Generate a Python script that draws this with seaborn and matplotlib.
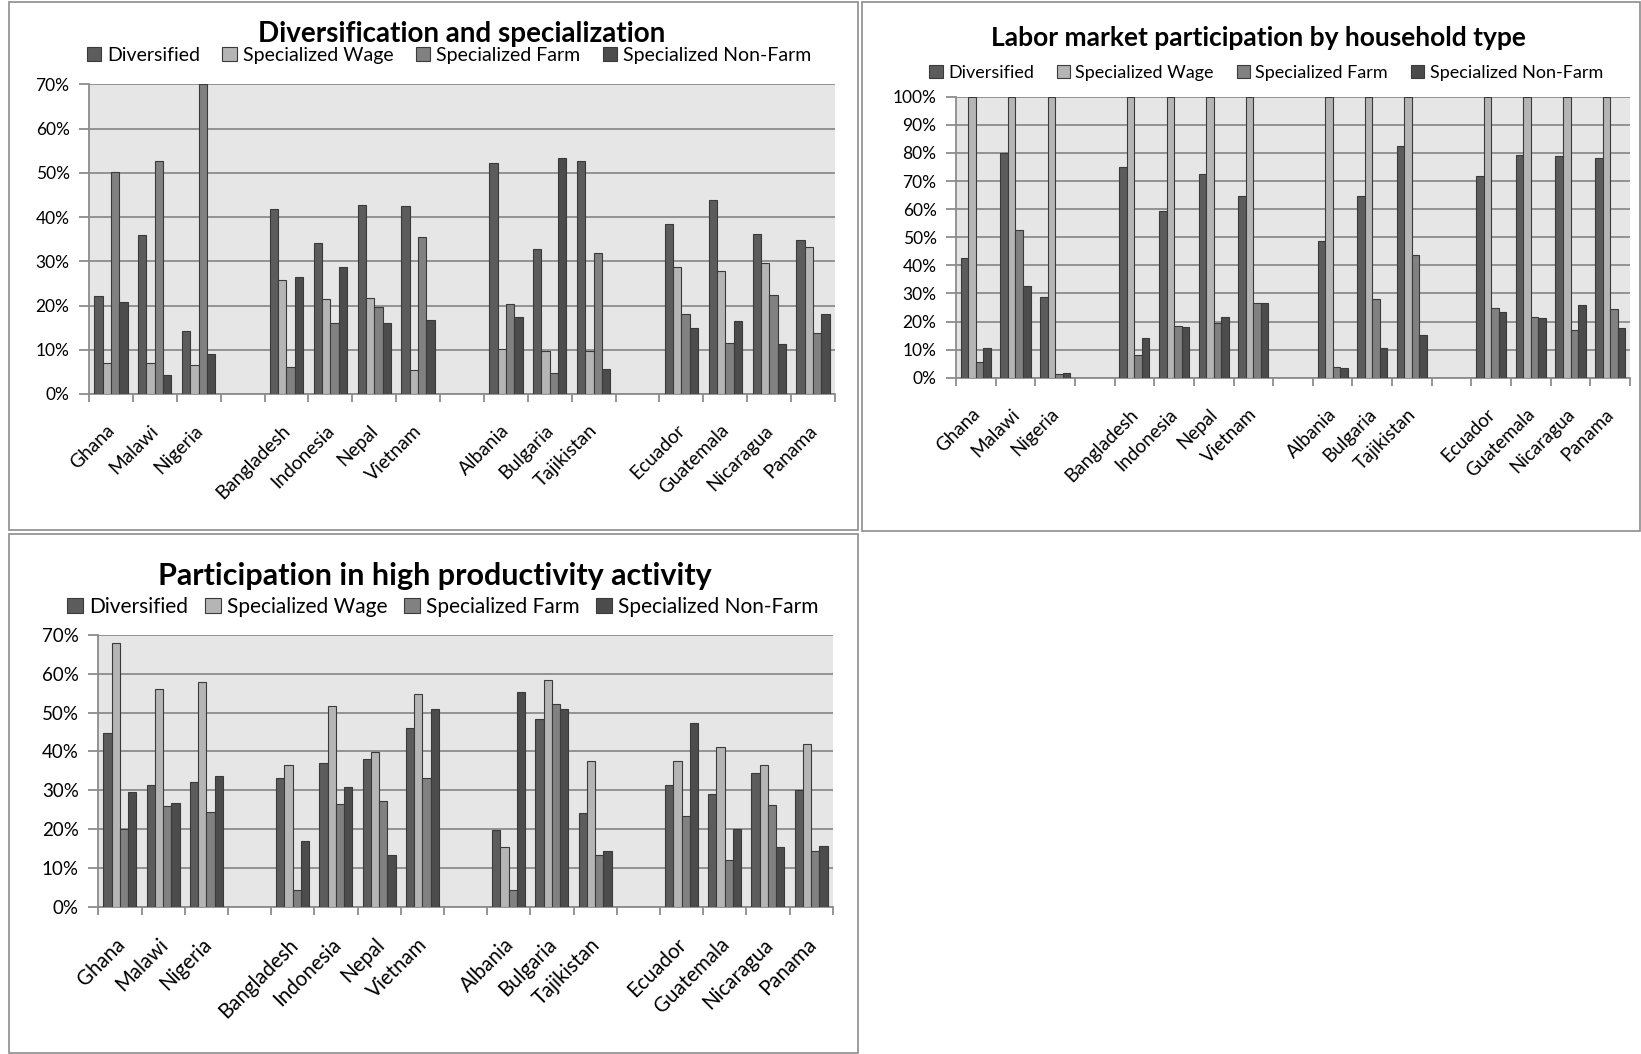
import matplotlib
matplotlib.use('Agg')
import matplotlib.pyplot as plt
import matplotlib.patches as mpatches
import matplotlib.transforms as mtransforms
from matplotlib.ticker import PercentFormatter, FixedLocator
import numpy as np
import pandas as pd
import seaborn as sns

# ------------------- data -------------------
countries = ['Ghana', 'Malawi', 'Nigeria',
             'Bangladesh', 'Indonesia', 'Nepal', 'Vietnam',
             'Albania', 'Bulgaria', 'Tajikistan',
             'Ecuador', 'Guatemala', 'Nicaragua', 'Panama']
# blank slots between the regions
order = ['Ghana', 'Malawi', 'Nigeria', ' ',
         'Bangladesh', 'Indonesia', 'Nepal', 'Vietnam', '  ',
         'Albania', 'Bulgaria', 'Tajikistan', '   ',
         'Ecuador', 'Guatemala', 'Nicaragua', 'Panama']
types = ['Diversified', 'Specialized Wage', 'Specialized Farm', 'Specialized Non-Farm']

# Diversification and specialization (%)
div_diversified = [22.2, 36.0, 14.2, 41.8, 34.1, 42.8, 42.5, 52.3, 32.7, 52.6, 38.5, 43.9, 36.3, 34.9]
div_wage = [6.9, 6.9, 6.6, 25.7, 21.4, 21.8, 5.5, 10.2, 9.8, 9.8, 28.7, 27.9, 29.6, 33.3]
div_farm = [50.1, 52.6, 70.0, 6.2, 16.0, 19.7, 35.6, 20.3, 4.7, 31.8, 18.1, 11.6, 22.5, 13.8]
div_nonfarm = [20.7, 4.4, 9.1, 26.5, 28.7, 16.0, 16.7, 17.5, 53.3, 5.6, 14.9, 16.4, 11.3, 18.2]

# Labor market participation by household type (%)
lab_diversified = [42.7, 80.0, 28.7, 75.1, 59.3, 72.4, 64.8, 48.6, 64.8, 82.6, 71.8, 79.2, 78.8, 78.3]
lab_wage = [100, 100, 100, 100, 100, 100, 100, 100, 100, 100, 100, 100, 100, 100]
lab_farm = [5.5, 52.4, 1.3, 8.2, 18.4, 19.5, 26.5, 3.8, 28.0, 43.7, 24.9, 21.6, 16.8, 24.3]
lab_nonfarm = [10.4, 32.5, 1.8, 14.1, 17.9, 21.6, 26.5, 3.3, 10.4, 15.2, 23.3, 21.1, 26.0, 17.8]

# Participation in high productivity activity (%)
hp_diversified = [44.8, 31.3, 32.2, 33.1, 37.1, 38.0, 46.0, 19.7, 48.3, 24.1, 31.3, 29.0, 34.5, 30.0]
hp_wage = [67.9, 56.2, 58.0, 36.5, 51.8, 39.8, 54.9, 15.5, 58.4, 37.5, 37.5, 41.1, 36.6, 42.0]
hp_farm = [20.0, 25.9, 24.5, 4.4, 26.4, 27.2, 33.1, 4.4, 52.2, 13.3, 23.3, 12.0, 26.3, 14.3]
hp_nonfarm = [29.6, 26.8, 33.8, 16.9, 30.8, 13.4, 50.9, 55.3, 50.9, 14.3, 47.4, 20.1, 15.3, 15.6]

palette = ['#5c5c5c', '#b5b5b5', '#818181', '#4c4c4c']

plt.rcParams['font.family'] = ['Lato', 'DejaVu Sans']


def make_frame(series):
    # long table: country, type, value
    rows = []
    for t, vals in zip(types, series):
        for c, v in zip(countries, vals):
            rows.append({'country': c, 'type': t, 'value': v})
    return pd.DataFrame(rows)


def draw_panel(fig, rect, series, ymax, title, title_xy, title_size, leg_xy, leg_size, colsp,
               tick_size, xlab_size):
    ax = fig.add_axes(rect)
    df = make_frame(series)
    sns.barplot(data=df, x='country', y='value', hue='type', order=order, hue_order=types,
                palette=palette, width=0.76, edgecolor='#3a3a3a', linewidth=0.8,
                saturation=1, ax=ax, zorder=3)
    ax.set_facecolor('#e6e6e6')
    ax.set_xlim(-0.5, len(order) - 0.5)
    ax.set_ylim(0, ymax)
    ax.yaxis.set_major_locator(FixedLocator(np.arange(0, ymax + 1, 10)))
    ax.yaxis.set_major_formatter(PercentFormatter(xmax=100, decimals=0))
    ax.grid(axis='y', color='#8c8c8c', linewidth=1.3, zorder=0)
    ax.set_axisbelow(True)
    for s in ['top', 'right']:
        ax.spines[s].set_visible(False)
    for s in ['left', 'bottom']:
        ax.spines[s].set_color('#8c8c8c')
        ax.spines[s].set_linewidth(1.3)
    ax.set_xlabel('')
    ax.set_ylabel('')
    ax.tick_params(axis='y', length=7, color='#8c8c8c', width=1.3, labelsize=tick_size, pad=7)
    ax.tick_params(axis='x', which='major', length=0, labelsize=xlab_size, pad=20)
    ax.set_xticks(np.arange(-0.5, len(order), 1.0), minor=True)
    ax.tick_params(axis='x', which='minor', length=6, color='#8c8c8c', width=1.3)
    shift = mtransforms.ScaledTranslation(-0.05, 0, fig.dpi_scale_trans)
    for lab in ax.get_xticklabels():
        lab.set_rotation(45)
        lab.set_ha('right')
        lab.set_rotation_mode('anchor')
        lab.set_transform(lab.get_transform() + shift)
    handles, labels = ax.get_legend_handles_labels()
    ax.get_legend().remove()
    fig.legend(handles, labels, loc='center', bbox_to_anchor=leg_xy, ncol=4, frameon=False,
               fontsize=leg_size, handlelength=0.75, handleheight=0.75, handletextpad=0.3,
               columnspacing=colsp, borderaxespad=0)
    fig.text(title_xy[0], title_xy[1], title, ha='center', va='center',
             fontsize=title_size, fontweight='bold')
    return ax


W, H = 1641, 1054
fig = plt.figure(figsize=(W / 100, H / 100), dpi=100)

# panel borders
for x0, y0, x1, y1 in [(9, 2, 858, 530), (862, 2, 1640, 531), (9, 534, 858, 1053)]:
    fig.add_artist(mpatches.Rectangle((x0 / W, 1 - y1 / H), (x1 - x0) / W, (y1 - y0) / H,
                                      transform=fig.transFigure, fill=False,
                                      edgecolor='#8c8c8c', linewidth=1.2))

draw_panel(fig, [89 / W, 1 - 394 / H, 746 / W, 309.5 / H],
           [div_diversified, div_wage, div_farm, div_nonfarm], 70,
           'Diversification and specialization', (462 / W, 1 - 34 / H), 20,
           (449 / W, 1 - 55 / H), 14, 1.15, 12.5, 13.8)

draw_panel(fig, [956 / W, 1 - 377.7 / H, 674 / W, 281 / H],
           [lab_diversified, lab_wage, lab_farm, lab_nonfarm], 100,
           'Labor market participation by household type', (1258 / W, 1 - 38 / H), 19,
           (1266 / W, 1 - 73 / H), 13, 1.25, 12.5, 13.5)

draw_panel(fig, [98.3 / W, 1 - 906.7 / H, 734.4 / W, 271.7 / H],
           [hp_diversified, hp_wage, hp_farm, hp_nonfarm], 70,
           'Participation in high productivity activity', (434.5 / W, 1 - 576 / H), 22,
           (443 / W, 1 - 607 / H), 15, 0.8, 13.5, 14.8)

fig.savefig('out.png', dpi=100)
